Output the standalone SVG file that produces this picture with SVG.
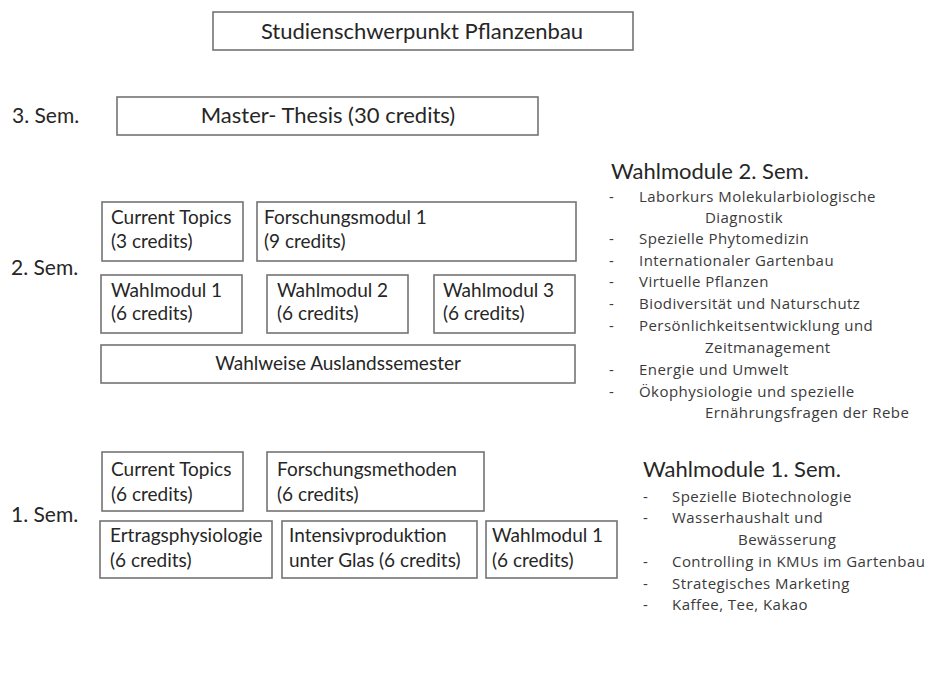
<svg xmlns="http://www.w3.org/2000/svg" width="930" height="678" viewBox="0 0 930 678">
<style>
.box{fill:#fff;stroke:#747474;stroke-width:1.6}
text{font-family:Lato,"Liberation Sans",sans-serif;fill:#262626}
.t{font-size:19px}
.big{font-size:22px}
.sem{font-size:21px}
.li{font-family:"Open Sans","Liberation Sans",sans-serif;font-size:15px;letter-spacing:0.45px;fill:#3a3a3a}
.c{text-anchor:middle}
</style>
<rect width="930" height="678" fill="#fff"/>
<g id="title"><rect class="box" x="213" y="12" width="420" height="38"/><text class="big c" x="422" y="39">Studienschwerpunkt Pflanzenbau</text></g>
<g id="sem-labels">
<text class="sem" x="12" y="123">3. Sem.</text>
<text class="sem" x="11" y="275">2. Sem.</text>
<text class="sem" x="11" y="522">1. Sem.</text>
</g>
<g id="master"><rect class="box" x="117" y="97" width="421" height="38"/><text class="big c" x="328" y="123">Master- Thesis (30 credits)</text></g>
<g id="ct2"><rect class="box" x="102" y="202" width="141" height="59"/><text class="t" x="111" y="224">Current Topics</text><text class="t" x="111" y="248">(3 credits)</text></g>
<g id="fm1"><rect class="box" x="257" y="202" width="319" height="59"/><text class="t" x="264" y="224">Forschungsmodul 1</text><text class="t" x="264" y="248">(9 credits)</text></g>
<g id="wm1"><rect class="box" x="101" y="275" width="141" height="58"/><text class="t" x="111" y="297">Wahlmodul 1</text><text class="t" x="111" y="320">(6 credits)</text></g>
<g id="wm2"><rect class="box" x="267" y="275" width="141" height="58"/><text class="t" x="277" y="297">Wahlmodul 2</text><text class="t" x="277" y="320">(6 credits)</text></g>
<g id="wm3"><rect class="box" x="434" y="275" width="141" height="58"/><text class="t" x="443" y="297">Wahlmodul 3</text><text class="t" x="443" y="320">(6 credits)</text></g>
<g id="ausland"><rect class="box" x="101" y="345" width="474" height="38"/><text class="t c" x="338" y="370">Wahlweise Auslandssemester</text></g>
<g id="ct1"><rect class="box" x="102" y="452" width="141" height="59"/><text class="t" x="111" y="476">Current Topics</text><text class="t" x="111" y="501">(6 credits)</text></g>
<g id="fmeth"><rect class="box" x="267" y="452" width="217" height="59"/><text class="t" x="277" y="476">Forschungsmethoden</text><text class="t" x="277" y="501">(6 credits)</text></g>
<g id="ertrag"><rect class="box" x="100" y="521" width="172" height="57"/><text class="t" x="110" y="542">Ertragsphysiologie</text><text class="t" x="110" y="567">(6 credits)</text></g>
<g id="intens"><rect class="box" x="282" y="521" width="195" height="57"/><text class="t" x="289" y="542">Intensivproduktion</text><text class="t" x="289" y="567">unter Glas (6 credits)</text></g>
<g id="wm1b"><rect class="box" x="486" y="521" width="131" height="57"/><text class="t" x="492" y="542">Wahlmodul 1</text><text class="t" x="492" y="567">(6 credits)</text></g>
<g id="list2">
<text class="big" x="611" y="179">Wahlmodule 2. Sem.</text>
<text class="li" x="609" y="202">-</text><text class="li" x="639" y="202">Laborkurs Molekularbiologische</text>
<text class="li" x="705" y="223">Diagnostik</text>
<text class="li" x="609" y="244">-</text><text class="li" x="639" y="244">Spezielle Phytomedizin</text>
<text class="li" x="609" y="266">-</text><text class="li" x="639" y="266">Internationaler Gartenbau</text>
<text class="li" x="609" y="287">-</text><text class="li" x="639" y="287">Virtuelle Pflanzen</text>
<text class="li" x="609" y="309">-</text><text class="li" x="639" y="309">Biodiversität und Naturschutz</text>
<text class="li" x="609" y="331">-</text><text class="li" x="639" y="331">Persönlichkeitsentwicklung  und</text>
<text class="li" x="705" y="353">Zeitmanagement</text>
<text class="li" x="609" y="375">-</text><text class="li" x="639" y="375">Energie und Umwelt</text>
<text class="li" x="609" y="397">-</text><text class="li" x="639" y="397">Ökophysiologie und spezielle</text>
<text class="li" x="705" y="418">Ernährungsfragen der Rebe</text>
</g>
<g id="list1">
<text class="big" x="643" y="477">Wahlmodule 1. Sem.</text>
<text class="li" x="643" y="502">-</text><text class="li" x="672" y="502">Spezielle Biotechnologie</text>
<text class="li" x="643" y="523">-</text><text class="li" x="672" y="523">Wasserhaushalt  und</text>
<text class="li" x="738" y="545">Bewässerung</text>
<text class="li" x="643" y="567">-</text><text class="li" x="672" y="567">Controlling in KMUs im Gartenbau</text>
<text class="li" x="643" y="589">-</text><text class="li" x="672" y="589">Strategisches Marketing</text>
<text class="li" x="643" y="610">-</text><text class="li" x="672" y="610">Kaffee, Tee, Kakao</text>
</g>
<g id="connectors"></g>
</svg>
